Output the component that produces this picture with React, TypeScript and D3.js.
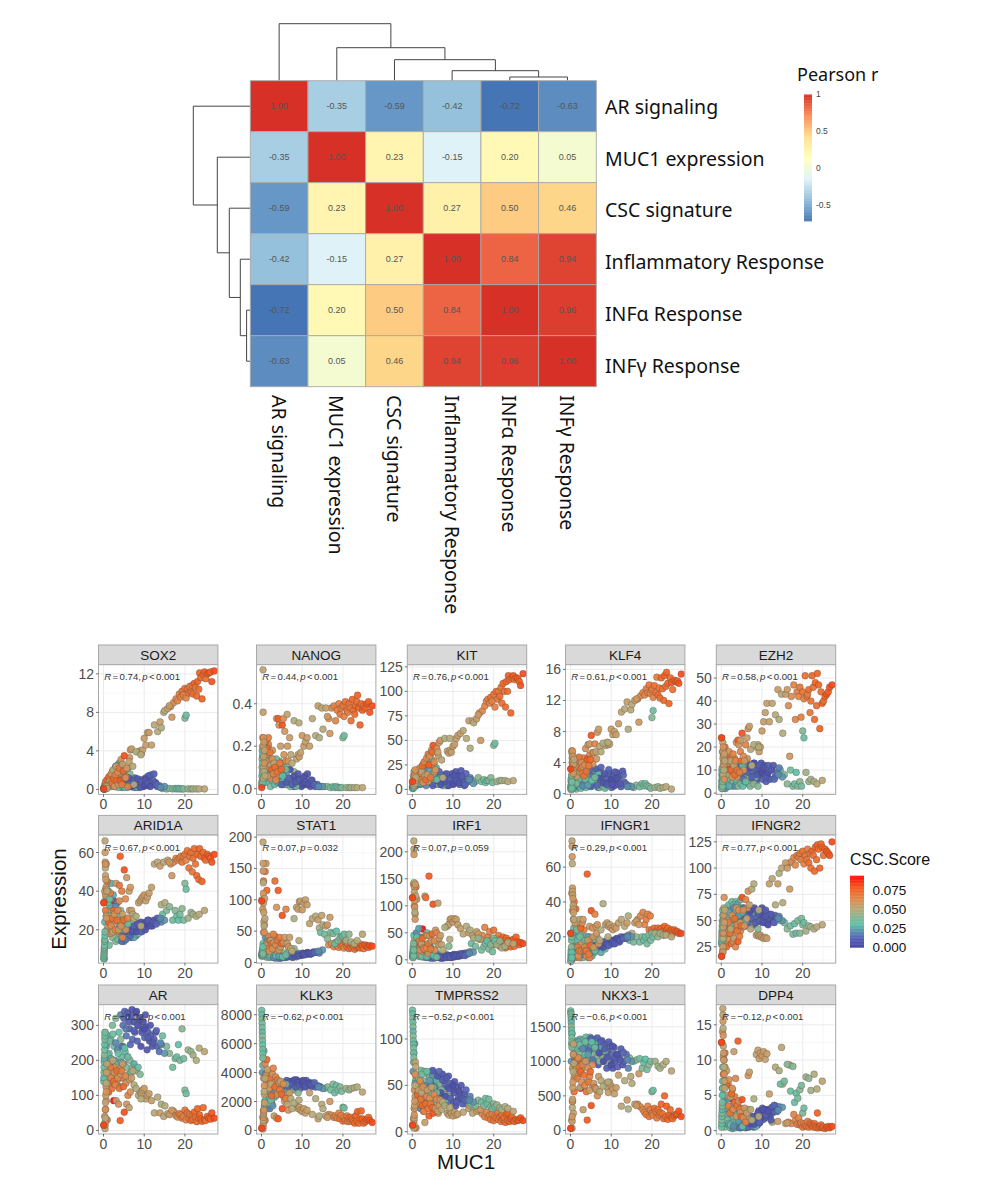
import React from 'react';
import * as d3 from 'd3';

// heatmap
const signatures = ['AR signaling', 'MUC1 expression', 'CSC signature', 'Inflammatory Response', 'INFα Response', 'INFγ Response'];
const pearson = [
  [1.0, -0.35, -0.59, -0.42, -0.72, -0.63],
  [-0.35, 1.0, 0.23, -0.15, 0.2, 0.05],
  [-0.59, 0.23, 1.0, 0.27, 0.5, 0.46],
  [-0.42, -0.15, 0.27, 1.0, 0.84, 0.94],
  [-0.72, 0.2, 0.5, 0.84, 1.0, 0.96],
  [-0.63, 0.05, 0.46, 0.94, 0.96, 1.0],
];
const rdYlBu = ['#4575B4', '#91BFDB', '#E0F3F8', '#FFFFBF', '#FEE090', '#FC8D59', '#D73027'];
const pearsonStops = [-0.72, -0.433, -0.147, 0.14, 0.427, 0.713, 1];
const pearsonTicks = [1, 0.5, 0, -0.5];
// leaves are indexes into signatures, h is the merge height
const dendro = { h: 57, kids: [0, { h: 33, kids: [1, { h: 21, kids: [2, { h: 10, kids: [3, { h: 3.7, kids: [4, 5] }] }] }] }] };

// scatter facets
const genes = ['SOX2', 'NANOG', 'KIT', 'KLF4', 'EZH2', 'ARID1A', 'STAT1', 'IRF1', 'IFNGR1', 'IFNGR2', 'AR', 'KLK3', 'TMPRSS2', 'NKX3-1', 'DPP4'];
const rValues = ['0.74', '0.44', '0.76', '0.61', '0.58', '0.67', '0.07', '0.07', '0.29', '0.77', '−0.22', '−0.62', '−0.52', '−0.6', '−0.12'];
const pValues = ['< 0.001', '< 0.001', '< 0.001', '< 0.001', '< 0.001', '< 0.001', '= 0.032', '= 0.059', '< 0.001', '< 0.001', '< 0.001', '< 0.001', '< 0.001', '< 0.001', '< 0.001'];
const yDomains = [
  [-0.52, 12.95], [-0.027, 0.584], [-5.1, 127.2], [-0.09, 16.6], [-0.57, 55.8],
  [2.77, 69.0], [-1, 203.2], [-6.1, 230.9], [4.9, 78.4], [9.5, 131.4],
  [-10.3, 359], [-249, 8692], [-2.5, 137], [-52, 1819], [-0.48, 17.85],
];
const yTicks = [
  [0, 4, 8, 12], [0, 0.2, 0.4], [0, 25, 50, 75, 100, 125], [0, 4, 8, 12, 16], [0, 10, 20, 30, 40, 50],
  [20, 40, 60], [0, 50, 100, 150, 200], [0, 50, 100, 150, 200], [20, 40, 60], [25, 50, 75, 100, 125],
  [0, 100, 200, 300], [0, 2000, 4000, 6000, 8000], [0, 50, 100], [0, 500, 1000, 1500], [0, 5, 10, 15],
];
const yTickFormat = [null, '.1f', null, null, null, null, null, null, null, null, null, null, null, null, null];
const xTicks = [0, 10, 20];
const cscTicks = [0, 0.025, 0.05, 0.075];
const cscStops = [0, 0.012, 0.03, 0.05, 0.063, 0.077, 0.094];
const cscColors = ['#4646A6', '#5560B6', '#60BFA6', '#B4A97A', '#DD8A4E', '#F25F1E', '#FF0A0A'];

// one entry per sample, same order in every gene list
const muc1 = [
  16.5, 17.2, 17.8, 18.2, 18.6, 19, 19.3, 19.6, 20, 20.3, 20.6, 21, 21.2, 21.5, 21.8, 22, 22.3, 22.6, 22.9, 23.1, 23.4, 23.6, 23.9, 24.2, 24.5, 24.8, 25.1, 25.5, 25.9, 26.3, 26.6, 27.2,
  8.6, 9, 9.3, 9.6, 10, 10.4, 10.8, 11.2,
  11.8, 12.5, 13.3, 13.9, 14.2, 14.8, 15.1, 15.8, 16.2, 16.8,
  14.5, 15.5, 16.2, 17, 17.6, 18, 18.4, 18.8, 19.3, 19.7, 20, 20.3, 20.8, 21.5, 22, 22.8, 23.5, 24.8,
  4.2, 4.8, 5.2, 5.6, 6, 6.4, 6.8, 7.1, 7.4, 7.7, 8, 8.3, 8.6, 8.9, 9.2, 9.5, 9.8, 10.1, 10.4, 10.7, 11, 11.3, 11.6, 12, 12.4, 12.8, 13.2, 13.7, 14.2, 15,
  0.2, 0.4, 0.6, 0.8, 1, 1.2, 1.4, 1.6, 1.8, 2, 2.2, 2.4, 2.6, 2.8, 3, 3.2, 3.4, 3.6, 3.8, 4, 4.2, 4.4, 4.6, 4.8, 5, 5.3, 5.6, 5.9, 6.2, 6.5, 6.8, 7.1, 7.5, 8, 8.5, 9,
  4.5, 5, 5.5, 6.2, 6.6, 7, 7.5, 8.1, 8.4, 9, 9.4, 10, 10.3, 10.9, 11.5, 12.2, 13, 14,
  0.3, 0.5, 0.7, 0.9, 1.1, 1.3, 1.5, 1.7, 1.9, 2.1, 2.3, 2.7, 3, 3.3, 3.6, 3.9, 4.3, 4.7, 5.2, 5.5, 6, 6.4,
  0.1, 0.3, 0.5, 0.7, 0.9, 1.1, 1.3, 1.5, 1.7, 1.9, 2.1, 2.3, 2.5, 2.7, 2.9, 3.1, 3.3, 3.5, 3.7, 3.9, 4.1, 4.3, 4.5, 4.7, 4.9, 5.1, 5.4, 5.7, 6, 6.3, 6.6, 6.9, 7.2, 7.5, 8, 9.2,
  0.05, 0.1, 0.12, 0.15, 0.18, 0.2, 0.22, 0.25, 0.28, 0.3, 0.32, 0.35, 0.38, 0.4, 0.42, 0.45, 0.48, 0.5, 0.55, 0.6, 0.65, 0.7, 0.75, 0.85,
  2.5, 0.05,
];
const cscScore = [
  0.062, 0.063, 0.066, 0.065, 0.068, 0.066, 0.07, 0.067, 0.071, 0.066, 0.072, 0.07, 0.068, 0.073, 0.07, 0.072, 0.075, 0.071, 0.074, 0.076, 0.073, 0.077, 0.075, 0.076, 0.074, 0.078, 0.072, 0.077, 0.079, 0.076, 0.08, 0.082,
  0.054, 0.055, 0.056, 0.055, 0.057, 0.056, 0.055, 0.056,
  0.055, 0.052, 0.05, 0.056, 0.048, 0.052, 0.05, 0.055, 0.057, 0.058,
  0.033, 0.036, 0.04, 0.034, 0.038, 0.032, 0.03, 0.036, 0.04, 0.035, 0.038, 0.033, 0.045, 0.042, 0.046, 0.048, 0.05, 0.052,
  0.018, 0.015, 0.012, 0.016, 0.01, 0.012, 0.008, 0.014, 0.006, 0.01, 0.007, 0.012, 0.005, 0.009, 0.004, 0.011, 0.006, 0.013, 0.008, 0.007, 0.01, 0.006, 0.012, 0.008, 0.01, 0.007, 0.012, 0.015, 0.018, 0.022,
  0.022, 0.03, 0.026, 0.034, 0.02, 0.028, 0.035, 0.024, 0.03, 0.018, 0.036, 0.026, 0.032, 0.022, 0.038, 0.028, 0.02, 0.034, 0.03, 0.024, 0.04, 0.032, 0.026, 0.036, 0.022, 0.03, 0.038, 0.028, 0.034, 0.04, 0.03, 0.036, 0.026, 0.042, 0.032, 0.038,
  0.014, 0.011, 0.016, 0.009, 0.013, 0.006, 0.011, 0.005, 0.009, 0.008, 0.012, 0.004, 0.007, 0.01, 0.006, 0.009, 0.013, 0.02,
  0.028, 0.06, 0.024, 0.062, 0.03, 0.058, 0.036, 0.066, 0.026, 0.064, 0.034, 0.06, 0.02, 0.068, 0.032, 0.062, 0.024, 0.066, 0.03, 0.06, 0.034, 0.058,
  0.066, 0.058, 0.07, 0.054, 0.072, 0.06, 0.075, 0.056, 0.068, 0.062, 0.07, 0.052, 0.074, 0.06, 0.066, 0.055, 0.072, 0.064, 0.058, 0.07, 0.078, 0.06, 0.068, 0.056, 0.074, 0.08, 0.063, 0.058, 0.066, 0.054, 0.06, 0.056, 0.052, 0.05, 0.048, 0.05,
  0.035, 0.03, 0.038, 0.033, 0.036, 0.028, 0.04, 0.034, 0.03, 0.037, 0.032, 0.036, 0.052, 0.055, 0.058, 0.05, 0.06, 0.054, 0.056, 0.058, 0.05, 0.06, 0.055, 0.052,
  0.094, 0.083,
];

const sox2 = [
  8.6, 9.0, 9.4, 9.2, 9.9, 9.6, 10.2, 9.8, 10.5, 9.5, 10.4, 10.0, 10.7, 10.1, 10.8, 9.9, 11.0, 10.6, 9.7, 11.2, 10.4, 12.1, 11.6, 9.4, 11.9, 12.2, 11.5, 12.0, 12.1, 12.2, 11.2, 12.3,
  3.9, 4.0, 3.7, 4.1, 5.3, 4.6, 5.9, 5.9,
  4.6, 6.7, 6.0, 7.0, 6.4, 8.0, 8.2, 8.4, 8.7, 7.5,
  0.1, 0.05, 0.1, 0.05, 0.1, 0.05, 0.1, 0.05, 0.05, 0.05, 7.4, 7.7, 0.05, 0.05, 0.05, 0.05, 0.05, 0.05,
  0.3, 0.6, 0.5, 0.8, 0.4, 1.0, 0.3, 0.7, 0.5, 1.2, 0.2, 0.6, 0.9, 0.4, 0.7, 1.0, 0.3, 0.6, 1.2, 0.4, 1.4, 0.8, 1.5, 0.5, 1.6, 0.7, 0.3, 0.4, 0.2, 0.3,
  0.2, 0.1, 0.6, 0.3, 0.9, 0.4, 1.2, 0.5, 1.5, 0.6, 1.8, 0.8, 2, 0.3, 2.3, 0.6, 2.5, 0.4, 2.7, 1, 2.8, 0.5, 2.2, 0.3, 1.6, 0.5, 1.0, 0.2, 0.4, 1.6, 0.3, 0.7, 0.2, 0.4, 0.2, 0.3,
  0.2, 0.9, 0.4, 1.2, 0.6, 0.3, 0.9, 0.5, 1.1, 0.2, 0.8, 0.4, 1, 0.6, 0.3, 0.9, 0.5, 0.2,
  0.1, 0.3, 0.5, 0.7, 0.9, 0.6, 1.1, 0.4, 0.3, 1.5, 1.9, 0.9, 2.4, 1.3, 0.2, 1.7, 2.6, 0.5, 0.2, 1.3, 2.2, 3.3,
  0.2, 0.5, 0.8, 0.2, 1, 0.4, 1.3, 0.8, 0.5, 1.6, 0.7, 2, 1.1, 0.3, 1.5, 2.4, 0.9, 1.8, 0.5, 2.2, 0.9, 3.1, 0.5, 2.6, 1.9, 3.5, 1.2, 2.2, 0.3, 2.9, 4.1, 4.2, 2.4, 0.5, 3.9, 3.6,
  0.05, 0.05, 0.1, 0.05, 0.1, 0.05, 0.1, 0.05, 0.05, 0.1, 0.05, 0.1, 0.1, 0.2, 0.3, 0.1, 0.2, 0.3, 0.2, 0.4, 0.2, 0.1, 0.3, 0.1,
  0.5, 0.05,
];
const nanog = [
  0.33, 0.38, 0.39, 0.32, 0.37, 0.40, 0.35, 0.38, 0.39, 0.34, 0.41, 0.37, 0.36, 0.40, 0.38, 0.32, 0.42, 0.37, 0.35, 0.39, 0.41, 0.44, 0.38, 0.30, 0.40, 0.37, 0.39, 0.38, 0.40, 0.41, 0.36, 0.39,
  0.14, 0.16, 0.15, 0.17, 0.25, 0.20, 0.22, 0.24,
  0.20, 0.33, 0.25, 0.39, 0.24, 0.38, 0.28, 0.38, 0.34, 0.26,
  0.01, 0.01, 0.01, 0.005, 0.01, 0.005, 0.01, 0.005, 0.005, 0.005, 0.24, 0.25, 0.005, 0.005, 0.005, 0.005, 0.005, 0.005,
  0.03, 0.05, 0.02, 0.04, 0.03, 0.02, 0.05, 0.03, 0.02, 0.04, 0.01, 0.03, 0.02, 0.05, 0.02, 0.03, 0.01, 0.04, 0.02, 0.06, 0.02, 0.07, 0.03, 0.01, 0.04, 0.02, 0.01, 0.02, 0.01, 0.01,
  0.02, 0.18, 0.05, 0.12, 0.16, 0.03, 0.08, 0.20, 0.06, 0.10, 0.01, 0.14, 0.04, 0.07, 0.11, 0.02, 0.05, 0.09, 0.12, 0.03, 0.07, 0.13, 0.05, 0.02, 0.08, 0.04, 0.10, 0.02, 0.06, 0.11, 0.03, 0.01, 0.02, 0.08, 0.01, 0.02,
  0.06, 0.02, 0.08, 0.03, 0.05, 0.09, 0.02, 0.06, 0.03, 0.07, 0.04, 0.02, 0.05, 0.03, 0.02, 0.04, 0.02, 0.01,
  0.15, 0.19, 0.22, 0.1, 0.05, 0.16, 0.13, 0.21, 0.09, 0.05, 0.12, 0.18, 0.07, 0.1, 0.14, 0.06, 0.08, 0.12, 0.06, 0.16, 0.09, 0.2,
  0.03, 0.24, 0.16, 0.08, 0.22, 0.13, 0.19, 0.06, 0.24, 0.1, 0.17, 0.11, 0.09, 0.14, 0.07, 0.12, 0.1, 0.04, 0.33, 0.08, 0.33, 0.3, 0.12, 0.2, 0.09, 0.3, 0.33, 0.27, 0.13, 0.35, 0.13, 0.24, 0.16, 0.12, 0.32, 0.31,
  0.02, 0.06, 0.1, 0.14, 0.18, 0.04, 0.08, 0.12, 0.16, 0.2, 0.03, 0.07, 0.56, 0.36, 0.2, 0.05, 0.24, 0.1, 0.15, 0.22, 0.08, 0.12, 0.18, 0.06,
  0.1, 0.005,
];
const kit = [
  78, 80, 85, 90, 92, 88, 94, 90, 97, 84, 100, 92, 100, 95, 104, 88, 108, 100, 84, 110, 100, 116, 112, 78, 114, 116, 112, 114, 113, 110, 106, 118,
  39, 37, 40, 38, 44, 46, 52, 55,
  57, 60, 52, 70, 42, 70, 68, 72, 76, 50,
  10, 8, 12, 8, 10, 7, 9, 9, 12, 7, 45, 47, 8, 9, 9, 9, 8, 9,
  8, 6, 10, 5, 8, 14, 6, 9, 12, 7, 15, 6, 4, 10, 12, 7, 16, 5, 9, 18, 8, 14, 5, 19, 10, 4, 16, 8, 12, 6,
  3, 5, 8, 12, 4, 10, 14, 6, 18, 5, 20, 8, 25, 6, 27, 10, 4, 30, 12, 32, 8, 35, 15, 30, 12, 26, 8, 22, 12, 5, 15, 8, 4, 10, 6, 8,
  12, 4, 15, 9, 18, 5, 12, 8, 16, 4, 11, 6, 14, 9, 7, 13, 5, 10,
  5, 10, 7, 15, 9, 13, 16, 10, 6, 18, 14, 20, 22, 12, 28, 8, 20, 25, 16, 18, 10, 34,
  8, 14, 18, 10, 16, 12, 20, 8, 16, 22, 10, 18, 24, 7, 28, 14, 10, 32, 15, 36, 25, 34, 12, 40, 38, 45, 28, 20, 42, 38, 48, 50, 30, 12, 52, 52,
  2, 1, 3, 2, 4, 1, 5, 2, 3, 6, 2, 4, 5, 8, 12, 4, 18, 7, 10, 14, 6, 20, 9, 12,
  14, 8,
];
const klf4 = [
  12.2, 12.6, 13.0, 12.7, 13.5, 13.0, 14.0, 12.9, 13.4, 12.4, 13.9, 13.0, 15.0, 12.7, 13.6, 12.3, 14.9, 13.5, 12.0, 15.2, 13.8, 15.6, 14.2, 11.6, 14.9, 14.3, 13.4, 14.6, 14.4, 14.5, 14.2, 15.4,
  6.2, 6.6, 6.3, 6.4, 8.3, 7.6, 8.0, 7.6,
  9.0, 10.5, 10.9, 11.8, 8.3, 10.8, 11.5, 12, 12.2, 9.2,
  1.0, 0.8, 1.1, 0.9, 1.3, 1.0, 1.3, 1.0, 0.9, 0.7, 9.8, 10.7, 0.8, 0.9, 0.7, 0.8, 0.9, 0.6,
  1.0, 2, 1.2, 2.5, 1.5, 1.8, 0.8, 2.8, 1.6, 1.0, 2.4, 1.3, 0.9, 2.0, 1.1, 2.6, 1.5, 0.8, 2.3, 1.0, 1.6, 2.7, 1.2, 2.2, 0.9, 2.9, 1.5, 1.2, 1.0, 0.9,
  0.8, 2.5, 1, 1.5, 3, 1.2, 0.6, 2.2, 1.4, 0.9, 2.6, 1.8, 0.7, 2.1, 3.0, 1, 1.6, 2.4, 0.8, 3.2, 1.4, 2.0, 1.2, 3.3, 0.9, 2.2, 1.5, 1, 3.0, 1.4, 2.5, 0.8, 1.5, 1, 0.7, 1.1,
  3, 1, 2.2, 3.2, 1.1, 2, 3.4, 1.4, 2.6, 1.2, 3.1, 1.8, 1.2, 2.8, 1.9, 1.3, 2.4, 0.9,
  1.8, 4.6, 0.7, 3.8, 2.2, 4.4, 1.3, 3.2, 2.8, 4.5, 2, 3.9, 1, 4.6, 1.9, 3.4, 1.1, 5, 1.7, 3.8, 2.1, 4.5,
  3.2, 5.5, 4, 2.5, 4.4, 3, 3.6, 2.2, 4.2, 3.4, 4.7, 2.8, 3.2, 4, 2.6, 3.5, 2.3, 3.7, 5.8, 2.9, 4.4, 6.3, 3.6, 6.4, 4.4, 7.5, 5.3, 5.3, 6.4, 5.4, 7.9, 8.3, 6.1, 5.4, 6.5, 6.6,
  0.6, 1, 1.6, 0.8, 2, 1.2, 0.5, 1.8, 1, 2.4, 0.7, 1.5, 5.2, 4.6, 4, 3, 5.5, 3.5, 4.2, 4.8, 3, 2.6, 3.8, 4.4,
  3.5, 3.2,
];
const ezh2 = [
  38, 42, 47, 32, 44, 42, 46, 33, 44, 41, 51, 42, 43, 45, 35, 40, 51, 46, 32, 48, 38, 52, 47, 28, 44, 39, 40, 42, 43, 44, 46, 47,
  20, 21, 18, 20, 27, 31, 35, 39,
  31, 39, 34, 45, 32, 43, 26, 43, 45, 16,
  10, 8, 4, 10, 3, 4, 9, 3, 5, 3, 27, 24, 9, 5, 6, 5, 4, 5.5,
  5, 10, 13, 6, 8, 11, 4, 9, 12, 6, 13, 8, 5, 10, 7, 11, 13, 6, 9, 12, 5, 8, 12, 6, 10, 12, 7, 9, 11, 7,
  2, 11, 4, 7, 2, 9, 12, 3, 6, 13, 4, 8, 3, 10, 5, 14, 3, 7, 5, 11, 3, 6, 13, 4, 9, 3, 12, 5, 14, 7, 4, 3, 10, 4, 7, 3,
  8, 12, 6, 14, 9, 11, 7, 13, 10, 8, 12, 9, 11, 7, 9, 10, 6, 8,
  7, 17, 10, 12, 4, 16, 8, 13, 3, 16, 10, 9, 13, 15, 6, 7, 9, 18, 12, 10, 5, 15,
  24, 18, 16, 9, 20, 13, 15, 8, 13, 18, 10, 14, 10, 7, 17, 12, 8, 14, 22, 10, 23, 21, 9, 23, 14, 26, 16, 14, 21, 24, 28, 29, 19, 12, 21, 20,
  3, 5, 8, 10, 2, 6, 11, 4, 9, 3, 7, 5, 22, 18, 15, 8, 20, 13, 16, 12, 10, 6, 17, 14,
  7, 24,
];
const arid1a = [
  54, 55, 57, 56, 57, 58, 55, 58, 59, 56, 61, 52, 58, 60, 50, 57, 62, 54, 48, 59, 46, 62, 58, 45, 60, 57, 56, 59, 58, 57, 55, 59,
  34, 35, 36, 37, 38, 35, 37, 39,
  42, 54, 55, 53, 33, 55, 34, 56, 55, 48,
  28, 30, 32, 25, 30, 27, 25, 28, 31, 25, 44, 41, 26, 29, 28, 27, 28, 30,
  15, 17, 18, 16, 20, 17, 16, 20, 18, 21, 17, 23, 20, 19, 24, 20, 22, 21, 24, 22, 25, 23, 24, 22, 25, 24, 26, 25, 24, 25,
  5, 14, 36, 28, 20, 40, 12, 32, 22, 36, 16, 38, 25, 30, 14, 20, 34, 15, 18, 22, 30, 16, 19, 26, 14, 24, 21, 16, 22, 24, 18, 20, 16, 22, 18, 20,
  14, 19, 15, 21, 17, 19, 22, 19, 23, 21, 19, 23, 20, 25, 22, 24, 23, 26,
  24, 38, 18, 20, 34, 26, 36, 18, 44, 20, 30, 24, 32, 19, 27, 35, 20, 16, 25, 20, 23, 30,
  34, 40, 30, 54, 45, 22, 24, 27, 39, 22, 26, 19, 30, 28, 20, 44, 25, 30, 20, 43, 58, 22, 40, 28, 25, 51, 36, 47, 26, 40, 42, 30, 28, 26, 27, 22,
  5, 6, 7, 8, 9, 10, 11, 12, 14, 15, 17, 19, 66, 60, 55, 52, 54, 48, 46, 42, 27, 26, 41, 40,
  35, 34,
];
const stat1 = [
  28, 30, 25, 32, 27, 24, 30, 26, 28, 23, 33, 25, 29, 22, 27, 24, 28, 26, 21, 30, 24, 27, 25, 23, 29, 26, 22, 28, 26, 24, 27, 26,
  88, 85, 97, 98, 84, 95, 100, 92,
  62, 70, 74, 68, 55, 75, 60, 58, 60, 72,
  48, 45, 38, 48, 46, 30, 50, 35, 40, 42, 42, 45, 35, 45, 33, 30, 35, 45,
  8, 7, 10, 9, 8, 11, 10, 12, 10, 8, 12, 13, 9, 12, 14, 11, 13, 15, 12, 14, 13, 16, 14, 13, 15, 17, 16, 17, 15, 20,
  12, 30, 25, 10, 40, 18, 8, 35, 20, 28, 8, 25, 15, 30, 8, 18, 7, 12, 25, 7, 14, 9, 12, 8, 10, 9, 15, 8, 12, 16, 10, 12, 9, 22, 10, 15,
  7, 9, 8, 10, 9, 11, 9, 12, 11, 13, 11, 12, 14, 13, 15, 14, 16, 18,
  20, 48, 15, 22, 28, 30, 12, 42, 9, 30, 12, 24, 8, 42, 11, 18, 10, 25, 9, 32, 12, 28,
  100, 85, 130, 60, 145, 158, 115, 28, 22, 18, 35, 35, 30, 22, 45, 32, 130, 28, 88, 35, 115, 20, 40, 25, 30, 75, 32, 40, 85, 30, 25, 40, 22, 18, 70, 35,
  10, 12, 14, 16, 11, 13, 18, 15, 20, 12, 25, 14, 192, 158, 146, 127, 110, 95, 80, 65, 58, 48, 102, 70,
  30, 98,
];
const irf1 = [
  38, 45, 60, 32, 42, 52, 36, 30, 55, 28, 40, 33, 45, 25, 38, 30, 42, 35, 22, 40, 28, 35, 30, 24, 36, 38, 25, 42, 33, 28, 32, 30,
  62, 66, 75, 76, 70, 76, 75, 65,
  58, 48, 62, 50, 55, 45, 40, 52, 48, 38,
  30, 25, 40, 18, 25, 30, 35, 20, 28, 15, 40, 35, 28, 35, 22, 25, 32, 30,
  5, 8, 3, 6, 4, 9, 5, 7, 3, 8, 4, 6, 9, 5, 7, 4, 8, 5, 10, 6, 9, 7, 11, 8, 12, 9, 13, 11, 15, 14,
  5, 45, 8, 25, 50, 12, 35, 58, 6, 42, 10, 30, 5, 25, 8, 18, 4, 50, 10, 6, 15, 8, 22, 5, 12, 6, 18, 5, 10, 30, 6, 8, 5, 12, 7, 25,
  3, 6, 4, 7, 5, 3, 6, 8, 4, 7, 5, 9, 6, 8, 7, 10, 8, 12,
  12, 35, 30, 20, 42, 28, 8, 10, 25, 32, 7, 15, 18, 45, 6, 12, 30, 35, 8, 18, 5, 28,
  115, 140, 100, 85, 135, 112, 30, 20, 35, 18, 28, 30, 40, 22, 20, 118, 115, 22, 45, 30, 155, 45, 20, 35, 48, 103, 35, 55, 50, 105, 40, 45, 28, 18, 60, 38,
  5, 8, 12, 6, 15, 20, 4, 25, 10, 30, 7, 18, 220, 205, 195, 143, 135, 125, 110, 97, 88, 75, 140, 118,
  57, 115,
];
const ifngr1 = [
  30, 32, 34, 27, 30, 33, 24, 32, 24, 22, 25, 23, 23, 25, 22, 24, 25, 23, 21, 26, 23, 24, 25, 22, 23, 24, 22, 24, 23, 23, 22, 22,
  27, 28, 26, 27, 25, 24, 26, 25,
  28, 30, 26, 28, 32, 20, 22, 28, 29, 27,
  18, 17, 20, 17, 20, 18, 20, 16, 21, 18, 22, 20, 22, 20, 22, 21, 21, 20,
  12, 13, 14, 13, 15, 13, 16, 15, 14, 16, 15, 17, 16, 15, 17, 16, 18, 17, 16, 18, 17, 19, 18, 17, 20, 19, 20, 19, 21, 20,
  6, 10, 18, 25, 8, 14, 26, 12, 20, 10, 24, 8, 22, 16, 8, 18, 10, 14, 20, 12, 16, 8, 20, 12, 18, 9, 14, 11, 18, 20, 13, 15, 11, 17, 13, 18,
  11, 14, 12, 15, 14, 16, 15, 14, 17, 16, 15, 18, 17, 16, 19, 18, 19, 20,
  12, 18, 22, 8, 18, 9, 24, 10, 15, 8, 20, 16, 10, 24, 18, 9, 20, 8, 14, 20, 12, 22,
  22, 45, 35, 30, 40, 28, 36, 10, 14, 9, 12, 30, 25, 12, 28, 30, 12, 14, 12, 12, 56, 18, 10, 26, 15, 35, 25, 14, 33, 26, 27, 16, 18, 24, 39, 20,
  6, 8, 10, 12, 7, 9, 14, 18, 11, 20, 8, 22, 75, 72, 66, 62, 48, 46, 44, 42, 38, 36, 34, 30,
  25, 22,
];
const ifngr2 = [
  104, 106, 110, 103, 112, 110, 114, 108, 116, 104, 112, 108, 118, 105, 114, 100, 116, 112, 97, 120, 108, 122, 118, 100, 123, 120, 112, 118, 116, 114, 112, 125,
  36, 37, 35, 36, 34, 33, 34, 33,
  85, 90, 65, 85, 95, 100, 67, 105, 100, 80,
  50, 48, 42, 45, 37, 47, 38, 50, 38, 52, 46, 48, 40, 45, 44, 42, 44, 46,
  55, 52, 60, 50, 57, 53, 48, 58, 50, 55, 46, 60, 53, 49, 57, 51, 55, 48, 52, 58, 54, 47, 56, 50, 53, 49, 55, 52, 54, 50,
  28, 40, 50, 60, 35, 55, 62, 45, 65, 55, 42, 60, 68, 50, 65, 45, 58, 68, 52, 66, 48, 62, 55, 70, 50, 62, 48, 58, 45, 60, 50, 46, 52, 48, 55, 42,
  58, 50, 62, 56, 48, 60, 52, 62, 48, 56, 50, 62, 49, 60, 46, 56, 48, 52,
  38, 30, 52, 45, 48, 38, 55, 40, 58, 50, 45, 36, 62, 42, 60, 46, 55, 40, 58, 44, 50, 62,
  16, 20, 45, 40, 35, 28, 25, 50, 48, 32, 38, 42, 28, 55, 30, 33, 52, 25, 62, 40, 30, 60, 35, 48, 45, 72, 60, 45, 70, 52, 78, 65, 42, 80, 85, 60,
  28, 30, 35, 32, 40, 38, 45, 42, 50, 48, 55, 60, 22, 25, 20, 33, 38, 44, 50, 55, 62, 72, 48, 60,
  55, 16,
];
const ar = [
  50, 55, 42, 38, 48, 45, 35, 40, 58, 30, 50, 34, 45, 28, 42, 32, 52, 38, 25, 62, 35, 44, 32, 26, 65, 30, 28, 40, 35, 32, 50, 35,
  100, 110, 105, 115, 120, 90, 100, 105,
  85, 50, 95, 50, 75, 40, 70, 48, 45, 58,
  270, 240, 220, 180, 205, 210, 245, 200, 290, 205, 115, 105, 230, 225, 215, 200, 235, 225,
  330, 300, 340, 270, 335, 290, 325, 260, 310, 280, 335, 255, 300, 315, 240, 285, 310, 265, 295, 230, 280, 255, 270, 240, 260, 280, 240, 225, 245, 220,
  150, 280, 190, 250, 140, 270, 220, 130, 260, 180, 300, 150, 240, 200, 320, 170, 230, 190, 280, 125, 260, 210, 150, 240, 190, 225, 180, 210, 160, 200, 165, 180, 190, 170, 180, 160,
  240, 320, 290, 310, 245, 345, 285, 340, 300, 320, 280, 290, 330, 265, 300, 250, 285, 250,
  200, 170, 240, 145, 215, 190, 255, 135, 205, 160, 275, 180, 250, 140, 220, 175, 195, 150, 235, 135, 210, 145,
  15, 40, 60, 85, 30, 130, 110, 170, 180, 150, 120, 200, 140, 165, 130, 85, 170, 150, 75, 120, 28, 160, 170, 190, 125, 52, 155, 75, 100, 65, 110, 150, 170, 130, 120, 90,
  140, 150, 165, 180, 195, 205, 215, 230, 245, 260, 270, 280, 5, 15, 25, 35, 60, 80, 100, 125, 135, 110, 165, 190,
  85, 15,
];
const klk3 = [
  1100, 1050, 900, 1000, 850, 1200, 800, 1050, 650, 900, 700, 1000, 600, 850, 650, 900, 750, 600, 500, 1000, 650, 1300, 500, 800, 1350, 800, 500, 600, 750, 900, 700, 550,
  1700, 1500, 1600, 1400, 1300, 1500, 1200, 1400,
  2600, 1100, 2200, 800, 1000, 1800, 1500, 1000, 900, 2000,
  3000, 2900, 3000, 2800, 3200, 2600, 3100, 2800, 3000, 2700, 1600, 1550, 2900, 2800, 2900, 2950, 3000, 2650,
  3100, 3300, 3000, 3200, 3350, 2900, 3250, 3000, 3400, 3150, 2850, 3300, 3500, 3100, 3250, 2900, 3400, 3150, 3300, 3000, 3450, 3200, 3100, 3300, 3050, 3200, 3000, 3100, 3050, 2900,
  4000, 5000, 5500, 2000, 3900, 1800, 2500, 1600, 2100, 1500, 2500, 1900, 2600, 1700, 2800, 2300, 3000, 2400, 3100, 2600, 2900, 3100, 2700, 3200, 2500, 3000, 3200, 2800, 3300, 2600, 3000, 3200, 2900, 2800, 3000, 2600,
  3350, 3000, 3250, 3450, 3050, 3350, 3200, 3500, 3000, 3300, 3150, 3250, 3450, 3100, 3250, 3150, 3300, 3000,
  4500, 3600, 1700, 4600, 2200, 3300, 1900, 4000, 2300, 3800, 2100, 3400, 2700, 3000, 2900, 2500, 3000, 2800, 3300, 2300, 3200, 2500,
  150, 900, 1400, 2500, 700, 3800, 4900, 4200, 3500, 2900, 3600, 3200, 2400, 3900, 4300, 1000, 3000, 3700, 850, 3500, 800, 3300, 2800, 3400, 2500, 1500, 3200, 2000, 2200, 1800, 1400, 2600, 2200, 1500, 1900, 2100,
  8300, 8000, 7700, 7400, 7100, 6800, 6500, 6200, 5900, 5600, 5300, 5000, 100, 300, 500, 700, 900, 1100, 1250, 1400, 2700, 3100, 1900, 3600,
  1850, 150,
];
const tmprss2 = [
  22, 19, 16, 21, 15, 18, 13, 19, 12, 17, 15, 20, 13, 16, 11, 18, 13, 15, 10, 19, 12, 20, 11, 14, 16, 12, 11, 13, 12, 13, 15, 12,
  20, 18, 22, 20, 17, 21, 18, 19,
  35, 21, 30, 25, 28, 20, 27, 22, 24, 24,
  30, 28, 34, 32, 28, 36, 30, 35, 27, 25, 30, 27, 29, 26, 24, 27, 25, 22,
  60, 65, 55, 62, 45, 58, 35, 50, 62, 40, 55, 30, 48, 60, 38, 52, 33, 45, 54, 28, 48, 36, 42, 50, 30, 40, 45, 35, 38, 32,
  65, 85, 95, 55, 45, 40, 60, 30, 50, 25, 66, 35, 55, 28, 65, 38, 50, 30, 62, 45, 58, 35, 52, 40, 60, 30, 48, 55, 40, 50, 35, 45, 30, 40, 35, 38,
  52, 66, 48, 60, 65, 42, 56, 38, 58, 46, 36, 50, 42, 32, 44, 36, 34, 34,
  75, 45, 52, 60, 38, 32, 58, 42, 48, 52, 62, 22, 40, 30, 65, 36, 55, 28, 48, 24, 42, 20,
  7, 14, 25, 38, 4, 50, 40, 45, 30, 55, 35, 42, 28, 48, 22, 10, 30, 38, 45, 25, 17, 36, 30, 48, 26, 20, 40, 25, 35, 22, 28, 34, 24, 32, 28, 26,
  131, 127, 122, 118, 113, 108, 103, 98, 94, 90, 85, 80, 4, 8, 12, 15, 18, 25, 28, 33, 50, 62, 75, 70,
  35, 7,
];
const nkx31 = [
  380, 340, 300, 260, 230, 350, 200, 300, 250, 220, 320, 270, 180, 300, 220, 260, 380, 240, 170, 500, 200, 350, 160, 220, 300, 190, 170, 210, 230, 240, 280, 200,
  680, 620, 550, 700, 640, 600, 530, 620,
  800, 350, 720, 440, 310, 780, 680, 380, 360, 820,
  1050, 1000, 1020, 1040, 900, 980, 1030, 880, 950, 1000, 560, 580, 1000, 930, 900, 950, 1000, 860,
  1200, 1300, 1100, 1250, 1000, 1320, 950, 1200, 1100, 1300, 1000, 1250, 1050, 900, 1150, 1250, 1000, 1100, 900, 1200, 1000, 1100, 920, 1050, 1180, 950, 1000, 1100, 900, 1000,
  1000, 1400, 1200, 900, 1050, 850, 1150, 1300, 1000, 1250, 1100, 1320, 950, 1200, 1300, 1050, 1250, 1100, 1350, 1000, 1300, 1150, 1050, 1350, 1200, 1320, 1100, 1280, 1180, 1050, 1250, 1000, 1200, 1050, 1150, 1000,
  1150, 1330, 1020, 1200, 1340, 1120, 1280, 1000, 1180, 1060, 1280, 950, 1220, 1050, 1100, 1020, 1130, 1020,
  1250, 900, 1100, 760, 1200, 920, 1020, 1050, 1280, 820, 1240, 880, 1180, 1000, 1280, 700, 1100, 780, 1280, 640, 1200, 580,
  30, 150, 420, 250, 560, 800, 1000, 900, 750, 1050, 920, 620, 850, 700, 950, 300, 800, 650, 1000, 560, 150, 900, 700, 580, 850, 360, 950, 680, 620, 600, 500, 780, 560, 720, 640, 700,
  1730, 1700, 1680, 1640, 1600, 1560, 1500, 1450, 1400, 1340, 1280, 1200, 30, 130, 200, 330, 420, 450, 620, 700, 850, 1100, 1250, 970,
  610, 30,
];
const dpp4 = [
  1.2, 1.0, 2.3, 1.4, 0.9, 1.8, 0.8, 1.1, 0.5, 1.0, 0.7, 0.6, 1.3, 0.5, 1.1, 0.9, 0.7, 0.5, 1.0, 0.6, 0.4, 2.5, 0.4, 0.6, 0.8, 0.4, 0.5, 0.3, 0.5, 0.6, 0.4, 0.6,
  10.8, 11.4, 10.2, 11.0, 10.6, 11.2, 10.1, 10.9,
  5.2, 1.2, 9.0, 1.3, 8.5, 11.8, 6.6, 1.0, 1.1, 9.3,
  6.6, 7.0, 9.4, 5.6, 9.1, 4.0, 5.3, 4.6, 5.8, 6.4, 2.5, 3.2, 7.6, 7.4, 5.7, 8.0, 5.9, 7.0,
  1.0, 0.5, 1.5, 0.8, 0.4, 1.2, 1.6, 0.6, 0.9, 1.9, 0.5, 1.3, 2.1, 0.8, 2.8, 1.2, 2.4, 3.2, 1.6, 2.9, 1.9, 3.0, 2.3, 2.0, 3.3, 2.6, 3.5, 2.7, 3.4, 3.3,
  2, 5, 8, 0.5, 7, 3, 1, 4.5, 0.8, 2.5, 0.4, 1.5, 3.5, 0.3, 2, 0.6, 4, 0.4, 1, 2.5, 0.5, 1.2, 3, 0.4, 1.5, 0.5, 2, 0.5, 1, 3, 0.5, 1.6, 0.7, 1, 0.6, 1.4,
  0.4, 1.1, 0.7, 1.4, 0.5, 1, 2, 0.9, 1.5, 2.5, 1.1, 2.1, 3, 2.2, 2.8, 1.5, 3.6, 2.9,
  6, 10.5, 4, 9, 2.2, 8.5, 1.5, 6.5, 1, 5, 0.8, 5.8, 0.6, 4.8, 2.2, 3.8, 1.4, 3.2, 0.6, 2.6, 1.6, 1.9,
  12.5, 14, 8, 10, 11, 7, 6.5, 5, 3.5, 7.2, 2.5, 4.8, 5.2, 6, 3, 11.2, 4, 7.4, 2, 3.5, 12.7, 4.2, 3, 2.5, 2, 4.4, 1.8, 3.2, 1.2, 2.5, 7.8, 8.3, 3, 1.5, 4.5, 2,
  0.5, 1, 1.5, 2, 2.5, 3, 3.5, 4, 5, 6, 7, 9, 17.3, 16.4, 15.5, 14.5, 13.5, 12, 11, 10, 9, 8, 7, 6,
  4.5, 12.5,
];
const expression = [sox2, nanog, kit, klf4, ezh2, arid1a, stat1, irf1, ifngr1, ifngr2, ar, klk3, tmprss2, nkx31, dpp4];

expression.forEach((list, i) => {
  if (list.length !== muc1.length || cscScore.length !== muc1.length) throw new Error(`${genes[i]} has ${list.length}, expected ${muc1.length}, csc ${cscScore.length}`);
});

const helvetica = '"Liberation Sans", Arial, sans-serif';
const humanist = '"Noto Sans", "Open Sans", sans-serif';

const pearsonColor = d3.scaleLinear<string>().domain(pearsonStops).range(rdYlBu);
const cscColor = d3.scaleLinear<string>().domain(cscStops).range(cscColors);

const heatX = d3.scaleBand<number>().domain(d3.range(signatures.length)).range([250.3, 596.3]);
const heatY = d3.scaleBand<number>().domain(d3.range(signatures.length)).range([80.7, 386.7]);
const rowLabelY = d3.scalePoint<number>().domain(d3.range(signatures.length)).range([107, 366]);

// the reddest sample sits underneath the others
const drawOrder = d3.range(muc1.length).sort((a, b) => Number(cscScore[b] > 0.09) - Number(cscScore[a] > 0.09));

// walks the tree, returns the leaf centre; sink draws one bracket
function walkDendro(node: any, center: (i: number) => number, sink: (a: number, ha: number, b: number, hb: number, h: number) => void) {
  if (typeof node === 'number') return { pos: center(node), h: 0 };
  const [l, r] = node.kids.map((k: any) => walkDendro(k, center, sink));
  sink(l.pos, l.h, r.pos, r.h, node.h);
  return { pos: (l.pos + r.pos) / 2, h: node.h };
}

function Dendrograms() {
  const top = d3.path();
  walkDendro(dendro, i => heatX(i)! + heatX.bandwidth() / 2, (a, ha, b, hb, h) => {
    const base = heatY.range()[0];
    top.moveTo(a, base - ha);
    top.lineTo(a, base - h);
    top.lineTo(b, base - h);
    top.lineTo(b, base - hb);
  });
  const left = d3.path();
  walkDendro(dendro, i => heatY(i)! + heatY.bandwidth() / 2, (a, ha, b, hb, h) => {
    const base = heatX.range()[0];
    left.moveTo(base - ha, a);
    left.lineTo(base - h, a);
    left.lineTo(base - h, b);
    left.lineTo(base - hb, b);
  });
  return (
    <g fill="none" stroke="#444" strokeWidth={1}>
      <path d={top.toString()} />
      <path d={left.toString()} />
    </g>
  );
}

function Heatmap() {
  const legendY = d3.scaleLinear().domain([1, -0.72]).range([94.5, 221]);
  const legendSteps = d3.range(1, -0.72, -0.01);
  return (
    <g>
      <Dendrograms />
      {pearson.map((row, r) =>
        row.map((v, c) => (
          <g key={`${r}-${c}`}>
            <rect x={heatX(c)} y={heatY(r)} width={heatX.bandwidth()} height={heatY.bandwidth()} fill={pearsonColor(v)} stroke="#a9a9a9" strokeWidth={0.9} />
            <text x={heatX(c)! + heatX.bandwidth() / 2} y={heatY(r)! + heatY.bandwidth() / 2} dy="0.35em" textAnchor="middle" fontFamily={helvetica} fontSize={9} fill="#555">
              {v.toFixed(2)}
            </text>
          </g>
        )),
      )}
      {signatures.map((s, i) => (
        <text key={s} x={605} y={rowLabelY(i)} dy="0.35em" fontFamily={humanist} fontSize={19.5} fill="#111">{s}</text>
      ))}
      {signatures.map((s, i) => (
        <text key={s} transform={`translate(${heatX(i)! + heatX.bandwidth() / 2 - 0.5},395) rotate(90)`} dy="0.35em" fontFamily={humanist} fontSize={19.5} fill="#111">{s}</text>
      ))}
      <text x={797} y={81} fontFamily={humanist} fontSize={18} fill="#111">Pearson r</text>
      {legendSteps.map(v => (
        <rect key={v} x={804} y={legendY(v)} width={8} height={legendY(v - 0.01) - legendY(v) + 0.4} fill={pearsonColor(v)} />
      ))}
      {pearsonTicks.map(t => (
        <text key={t} x={816} y={legendY(t)} dy="0.35em" fontFamily={helvetica} fontSize={8.5} fill="#444">{t}</text>
      ))}
    </g>
  );
}

const panelLefts = [98.5, 256.5, 407.3, 565.5, 716.3];
const panelWidth = 119.4;
const rowTops = [645, 815.4, 985];
const stripHeight = 19.7;
const panelHeight = [129.7, 128, 129.3];
const xDomain = [-1.23, 28.1];

function Facet({ index }: { index: number }) {
  const col = index % 5;
  const row = Math.floor(index / 5);
  const left = panelLefts[col];
  const top = rowTops[row] + stripHeight;
  const bottom = top + panelHeight[row];
  const x = d3.scaleLinear().domain(xDomain).range([left, left + panelWidth]);
  const y = d3.scaleLinear().domain(yDomains[index]).range([bottom, top]);
  const ticks = yTicks[index];
  const fmt = yTickFormat[index] ? d3.format(yTickFormat[index] as string) : (d: number) => String(d);
  const step = ticks[1] - ticks[0];
  const minor = d3.range(ticks[0] - step / 2, yDomains[index][1], step).filter(v => v > yDomains[index][0]);
  const values = expression[index];
  return (
    <g>
      <rect x={left} y={rowTops[row]} width={panelWidth} height={stripHeight} fill="#d9d9d9" stroke="#a8a8a8" strokeWidth={1} />
      <text x={left + panelWidth / 2} y={rowTops[row] + stripHeight / 2} dy="0.36em" textAnchor="middle" fontFamily={helvetica} fontSize={13.5} fill="#1a1a1a">{genes[index]}</text>
      <rect x={left} y={top} width={panelWidth} height={panelHeight[row]} fill="#fff" />
      {minor.map(v => <line key={v} x1={left} x2={left + panelWidth} y1={y(v)} y2={y(v)} stroke="#f2f2f2" strokeWidth={0.6} />)}
      {[5, 15, 25].map(v => <line key={v} x1={x(v)} x2={x(v)} y1={top} y2={bottom} stroke="#f2f2f2" strokeWidth={0.6} />)}
      {ticks.map(v => <line key={v} x1={left} x2={left + panelWidth} y1={y(v)} y2={y(v)} stroke="#ebebeb" strokeWidth={1} />)}
      {xTicks.map(v => <line key={v} x1={x(v)} x2={x(v)} y1={top} y2={bottom} stroke="#ebebeb" strokeWidth={1} />)}
      {drawOrder.map(i => (
        <circle key={i} cx={x(muc1[i])} cy={y(values[i])} r={3.4} fill={cscColor(cscScore[i])} fillOpacity={0.92} stroke="#444" strokeOpacity={0.6} strokeWidth={0.5} />
      ))}
      <rect x={left} y={top} width={panelWidth} height={panelHeight[row]} fill="none" stroke="#a8a8a8" strokeWidth={1} />
      <text x={x(0) + 0.8} y={top + 15.5} fontFamily={helvetica} fontSize={9.6} wordSpacing={-1.3} fill="#333">
        <tspan fontStyle="italic">R</tspan>
        {` = ${rValues[index]}, `}
        <tspan fontStyle="italic">p</tspan>
        {` ${pValues[index]}`}
      </text>
      {ticks.map(v => (
        <g key={v}>
          <line x1={left - 2.5} x2={left} y1={y(v)} y2={y(v)} stroke="#333" strokeWidth={0.7} />
          <text x={left - 4.5} y={y(v)} dy="0.36em" textAnchor="end" fontFamily={helvetica} fontSize={14} fill="#4d4d4d">{fmt(v)}</text>
        </g>
      ))}
      {xTicks.map(v => (
        <g key={v}>
          <line x1={x(v)} x2={x(v)} y1={bottom} y2={bottom + 2.5} stroke="#333" strokeWidth={0.7} />
          <text x={x(v)} y={bottom + 14.5} textAnchor="middle" fontFamily={helvetica} fontSize={14} fill="#4d4d4d">{v}</text>
        </g>
      ))}
    </g>
  );
}

function CscLegend() {
  const y = d3.scaleLinear().domain([0, 0.094]).range([947.3, 875.7]);
  const steps = d3.range(0, 0.094, 0.001);
  return (
    <g>
      <text x={850} y={865} fontFamily={helvetica} fontSize={16} fill="#111">CSC.Score</text>
      {steps.map(v => (
        <rect key={v} x={850} y={y(v + 0.001)} width={14} height={y(v) - y(v + 0.001) + 0.4} fill={cscColor(v)} />
      ))}
      {cscTicks.map(t => (
        <text key={t} x={872.5} y={y(t)} dy="0.36em" fontFamily={helvetica} fontSize={13.5} fill="#111">{t.toFixed(3)}</text>
      ))}
    </g>
  );
}

export default function App() {
  return (
    <svg width={983} height={1200} style={{ position: 'absolute', left: 0, top: 0, background: '#fff' }}>
      <Heatmap />
      {genes.map((g, i) => <Facet key={g} index={i} />)}
      <text transform="translate(66,899) rotate(-90)" textAnchor="middle" fontFamily={helvetica} fontSize={20.5} fill="#111">Expression</text>
      <text x={466} y={1168.5} textAnchor="middle" fontFamily={helvetica} fontSize={20.5} fill="#111">MUC1</text>
      <CscLegend />
    </svg>
  );
}
